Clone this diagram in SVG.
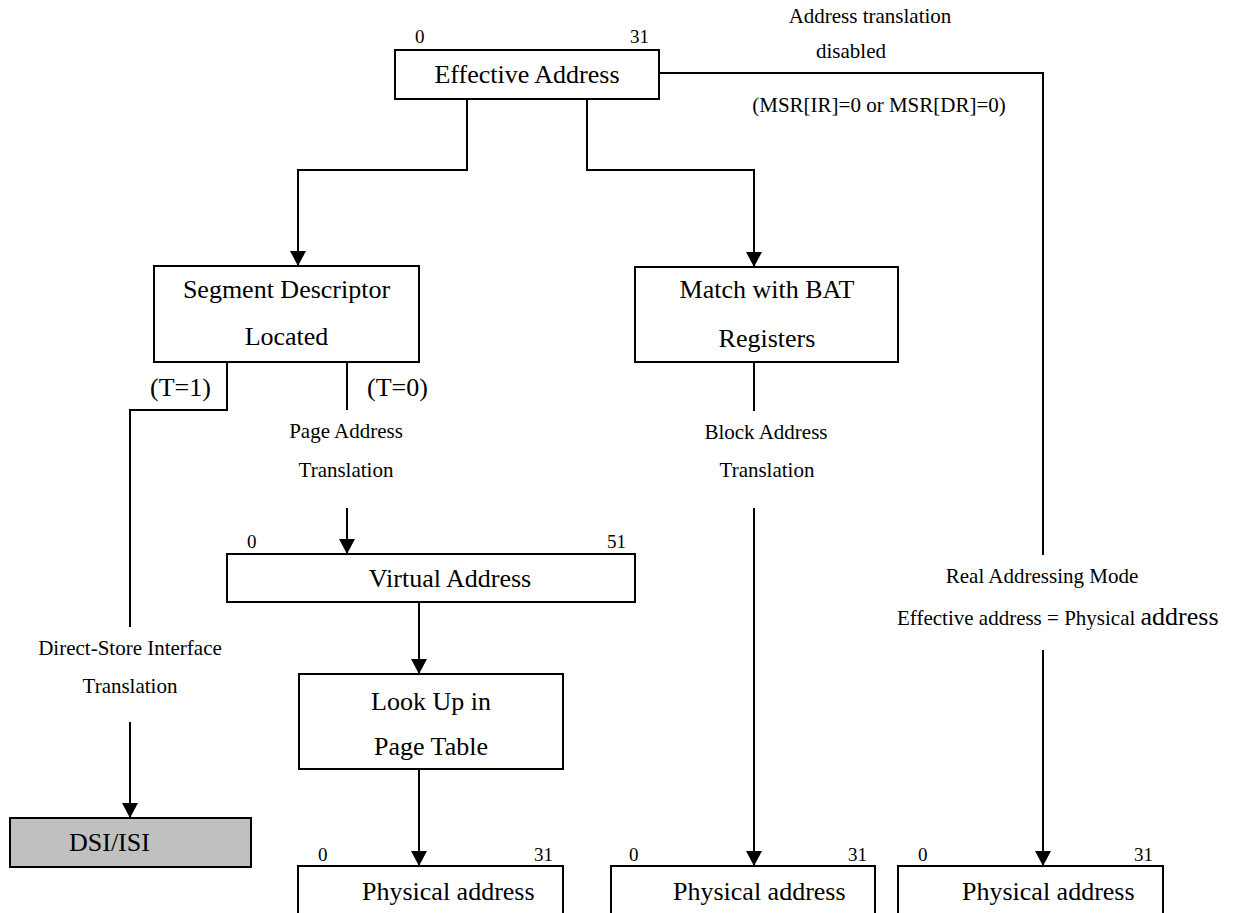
<svg xmlns="http://www.w3.org/2000/svg" width="1236" height="913" viewBox="0 0 1236 913">
  <style>
    text { font-family: "Liberation Serif", "Times New Roman", serif; fill: #000; }
    .box { fill: #fff; stroke: #000; stroke-width: 2; }
    .grey { fill: #c0c0c0; stroke: #000; stroke-width: 2; }
    .lbl { font-size: 26px; }
    .sm { font-size: 21px; }
    .bit { font-size: 19px; }
    .mid { text-anchor: middle; }
    .end { text-anchor: end; }
    .wire { fill: none; stroke: #000; stroke-width: 2; }
    .arrow { marker-end: url(#head); }
  </style>
  <defs>
    <marker id="head" markerUnits="userSpaceOnUse" markerWidth="16" markerHeight="16" refX="15" refY="8" orient="auto">
      <path d="M0,0 L15,8 L0,16 z" fill="#000"/>
    </marker>
  </defs>

  <rect width="1236" height="913" fill="#fff"/>

  <!-- connectors -->
  <g id="connectors">
    <path class="wire arrow" d="M467,99 V170 H298 V266"/>
    <path class="wire arrow" d="M587,99 V170 H754 V267"/>
    <path class="wire" d="M659,73 H1043 V555"/>
    <path class="wire arrow" d="M1043,650 V866"/>
    <path class="wire" d="M227,362 V410 H130 V627"/>
    <path class="wire arrow" d="M130,722 V818"/>
    <path class="wire" d="M347,362 V410"/>
    <path class="wire arrow" d="M347,508 V554"/>
    <path class="wire arrow" d="M419,602 V674"/>
    <path class="wire arrow" d="M419,769 V866"/>
    <path class="wire" d="M754,362 V411"/>
    <path class="wire arrow" d="M754,508 V866"/>
  </g>

  <!-- connector labels -->
  <g id="labels">
    <text class="sm mid" x="870" y="23">Address translation</text>
    <text class="sm mid" x="851" y="58">disabled</text>
    <text class="sm mid" x="879" y="112">(MSR[IR]=0 or MSR[DR]=0)</text>
    <text class="lbl" x="150" y="396">(T=1)</text>
    <text class="lbl" x="367" y="396">(T=0)</text>
    <text class="sm mid" x="346" y="438">Page Address</text>
    <text class="sm mid" x="346" y="477">Translation</text>
    <text class="sm mid" x="766" y="439">Block Address</text>
    <text class="sm mid" x="767" y="477">Translation</text>
    <text class="sm mid" x="1042" y="583">Real Addressing Mode</text>
    <text class="sm" x="897" y="625">Effective address = Physical <tspan font-size="26">address</tspan></text>
    <text class="sm mid" x="130" y="655">Direct-Store Interface</text>
    <text class="sm mid" x="130" y="693">Translation</text>
  </g>

  <g id="effective-address">
    <rect class="box" x="395" y="50" width="264" height="49"/>
    <text class="bit" x="415" y="43">0</text>
    <text class="bit end" x="649" y="43">31</text>
    <text class="lbl mid" x="527" y="83">Effective Address</text>
  </g>

  <g id="segment-descriptor">
    <rect class="box" x="154" y="266" width="265" height="96"/>
    <text class="lbl mid" x="286.5" y="298">Segment Descriptor</text>
    <text class="lbl mid" x="286.5" y="345">Located</text>
  </g>

  <g id="bat-match">
    <rect class="box" x="635" y="267" width="263" height="95"/>
    <text class="lbl mid" x="767" y="298">Match with BAT</text>
    <text class="lbl mid" x="767" y="347">Registers</text>
  </g>

  <g id="virtual-address">
    <rect class="box" x="227" y="554" width="408" height="48"/>
    <text class="bit" x="247" y="548">0</text>
    <text class="bit end" x="626" y="548">51</text>
    <text class="lbl mid" x="450" y="587">Virtual Address</text>
  </g>

  <g id="page-table">
    <rect class="box" x="299" y="674" width="264" height="95"/>
    <text class="lbl mid" x="431" y="710">Look Up in</text>
    <text class="lbl mid" x="431" y="755">Page Table</text>
  </g>

  <g id="dsi-isi">
    <rect class="grey" x="10" y="818" width="241" height="49"/>
    <text class="lbl" x="69" y="851">DSI/ISI</text>
  </g>

  <g id="physical-page">
    <rect class="box" x="298" y="866" width="265" height="80"/>
    <text class="bit" x="318" y="861">0</text>
    <text class="bit end" x="553" y="861">31</text>
    <text class="lbl" x="362" y="900">Physical address</text>
  </g>

  <g id="physical-block">
    <rect class="box" x="611" y="866" width="264" height="80"/>
    <text class="bit" x="629" y="861">0</text>
    <text class="bit end" x="867" y="861">31</text>
    <text class="lbl" x="673" y="900">Physical address</text>
  </g>

  <g id="physical-real">
    <rect class="box" x="898" y="866" width="265" height="80"/>
    <text class="bit" x="918" y="861">0</text>
    <text class="bit end" x="1153" y="861">31</text>
    <text class="lbl" x="962" y="900">Physical address</text>
  </g>
</svg>
